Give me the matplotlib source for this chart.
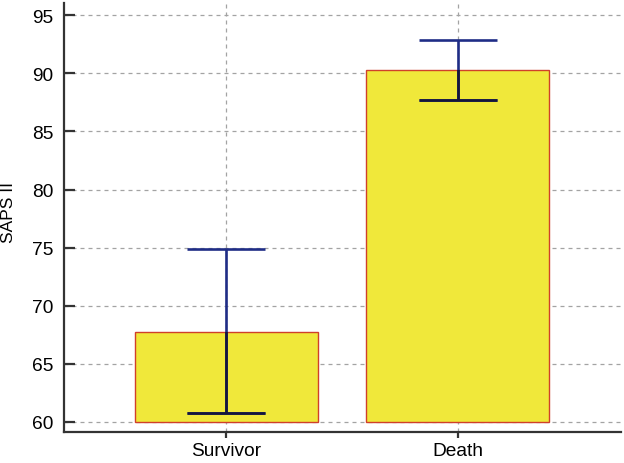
import matplotlib
matplotlib.use("Agg")
import matplotlib.pyplot as plt
import numpy as np
from matplotlib.patches import Rectangle

categories = ["Survivor", "Death"]
bar_values = [67.7, 90.3]
err_low = [60.75, 87.75]
err_high = [74.9, 92.9]
base = 60
yticks = [60, 65, 70, 75, 80, 85, 90, 95]

plt.rcParams['font.family'] = ['Liberation Sans', 'DejaVu Sans']

fig = plt.figure(figsize=(6.24, 4.64), dpi=100)
ax = fig.add_axes([0.1026, 0.0665, 0.8921, 0.9245])

x = np.arange(len(categories))
heights = [v - base for v in bar_values]
bars = ax.bar(x, heights, bottom=base, width=0.79, color="#f0e83a",
              edgecolor="#d0402a", linewidth=1.0, zorder=2)

yerr = np.array([[v - lo for v, lo in zip(bar_values, err_low)],
                 [hi - v for v, hi in zip(bar_values, err_high)]])
ax.errorbar(x, bar_values, yerr=yerr, fmt="none", ecolor="#1f2d86",
            elinewidth=1.9, capsize=28.3, capthick=1.9, zorder=3)

# darker appearance of the error bar where it lies over the yellow bars
for k, b in enumerate(bars):
    clip = Rectangle((b.get_x(), b.get_y()), b.get_width(), b.get_height(),
                     transform=ax.transData)
    e = ax.errorbar([x[k]], [bar_values[k]], yerr=yerr[:, k:k+1], fmt="none",
                    ecolor="#15153a", elinewidth=1.9, capsize=28.3,
                    capthick=1.9, zorder=4)
    for art in list(e.lines[1]) + list(e.lines[2]):
        art.set_clip_path(clip)

ax.set_xlim(-0.703, 1.706)
ax.set_ylim(59.1, 96.05)
ax.set_yticks(yticks)
ax.set_xticks(x)
ax.set_xticklabels(categories)
ax.set_ylabel("SAPS II", fontsize=12.5)
ax.yaxis.set_label_coords(-0.087, 0.514)

ax.grid(True, color="#a3a3a3", linestyle=(0, (3.2, 3.2)), linewidth=0.9, zorder=1)
ax.set_axisbelow(True)

for s in ["top", "right"]:
    ax.spines[s].set_visible(False)
for s in ["left", "bottom"]:
    ax.spines[s].set_linewidth(1.6)
    ax.spines[s].set_color("#333333")

ax.tick_params(axis="y", direction="in", length=8, width=1.6, color="#333333",
               labelsize=13.8, pad=7.5)
ax.tick_params(axis="x", direction="out", length=4, width=1.6, color="#333333",
               labelsize=13.8, pad=3)

fig.savefig("out.png", dpi=100)
